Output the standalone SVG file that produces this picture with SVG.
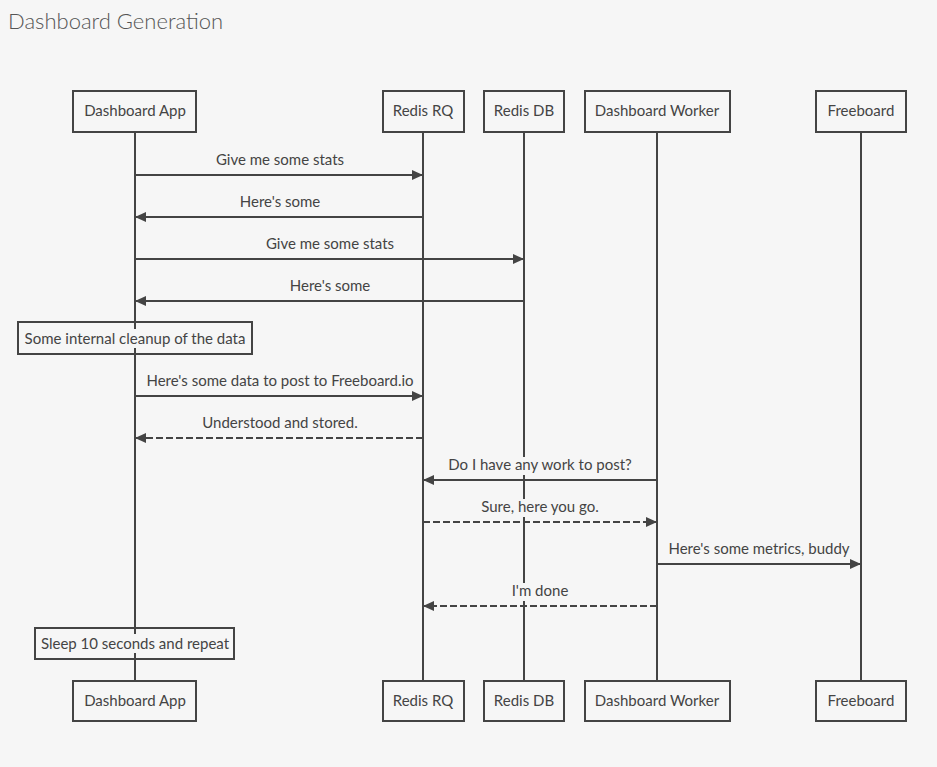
<svg xmlns="http://www.w3.org/2000/svg" width="937" height="767" viewBox="0 0 937 767">
<defs>
<style>
.bg{fill:#f6f6f6}
.t{font-family:"Source Sans Pro",Lato,"Noto Sans",sans-serif;font-size:15px;fill:#444;text-anchor:middle}
.title{font-family:"Source Sans Pro",Lato,"Noto Sans",sans-serif;font-size:22px;font-weight:300;fill:#555}
.box{fill:#f6f6f6;stroke:#444;stroke-width:2}
.note{fill:none;stroke:#444;stroke-width:2}
.life{stroke:#444;stroke-width:2;fill:none}
.msg{stroke:#444;stroke-width:2;fill:none}
.dash{stroke-dasharray:7,3}
.lbg{fill:#f6f6f6}
</style>
<marker id="ah" markerWidth="12" markerHeight="10" refX="11" refY="5" orient="auto" markerUnits="userSpaceOnUse">
<path d="M0,0 L11,5 L0,10 Z" fill="#444"/>
</marker>
</defs>
<rect class="bg" x="0" y="0" width="937" height="767"/>
<text class="title" x="8" y="29">Dashboard Generation</text>

<g id="lifelines">
<line class="life" x1="135" y1="132" x2="135" y2="681"/>
<line class="life" x1="423" y1="132" x2="423" y2="681"/>
<line class="life" x1="524" y1="132" x2="524" y2="681"/>
<line class="life" x1="657" y1="132" x2="657" y2="681"/>
<line class="life" x1="861" y1="132" x2="861" y2="681"/>
</g>

<g id="dashboard-app">
<rect class="box" x="73" y="91" width="123" height="41"/>
<text class="t" x="135" y="116">Dashboard App</text>
<rect class="box" x="73" y="681" width="123" height="40"/>
<text class="t" x="135" y="706">Dashboard App</text>
</g>
<g id="redis-rq">
<rect class="box" x="383" y="91" width="81" height="41"/>
<text class="t" x="423" y="116">Redis RQ</text>
<rect class="box" x="383" y="681" width="81" height="40"/>
<text class="t" x="423" y="706">Redis RQ</text>
</g>
<g id="redis-db">
<rect class="box" x="484" y="91" width="80" height="41"/>
<text class="t" x="524" y="116">Redis DB</text>
<rect class="box" x="484" y="681" width="80" height="40"/>
<text class="t" x="524" y="706">Redis DB</text>
</g>
<g id="dashboard-worker">
<rect class="box" x="585" y="91" width="145" height="41"/>
<text class="t" x="657" y="116">Dashboard Worker</text>
<rect class="box" x="585" y="681" width="145" height="40"/>
<text class="t" x="657" y="706">Dashboard Worker</text>
</g>
<g id="freeboard">
<rect class="box" x="816" y="91" width="90" height="41"/>
<text class="t" x="861" y="116">Freeboard</text>
<rect class="box" x="816" y="681" width="90" height="40"/>
<text class="t" x="861" y="706">Freeboard</text>
</g>

<g id="note-cleanup">
<rect class="note" x="18" y="322" width="234" height="32"/>
<rect class="lbg" x="22" y="329" width="226" height="19"/>
<text class="t" x="135" y="344">Some internal cleanup of the data</text>
</g>
<g id="note-sleep">
<rect class="note" x="35" y="628" width="199" height="31"/>
<rect class="lbg" x="39" y="634" width="191" height="19"/>
<text class="t" x="135" y="649">Sleep 10 seconds and repeat</text>
</g>

<g id="connectors">
<line class="msg" x1="135" y1="175" x2="423" y2="175" marker-end="url(#ah)"/>
<text class="t" x="280" y="165">Give me some stats</text>

<line class="msg" x1="423" y1="217" x2="135" y2="217" marker-end="url(#ah)"/>
<text class="t" x="280" y="207">Here's some</text>

<line class="msg" x1="135" y1="259" x2="524" y2="259" marker-end="url(#ah)"/>
<text class="t" x="330" y="249">Give me some stats</text>

<line class="msg" x1="524" y1="301" x2="135" y2="301" marker-end="url(#ah)"/>
<text class="t" x="330" y="291">Here's some</text>

<line class="msg" x1="135" y1="396" x2="423" y2="396" marker-end="url(#ah)"/>
<text class="t" x="280" y="386">Here's some data to post to Freeboard.io</text>

<line class="msg dash" x1="423" y1="438" x2="135" y2="438" marker-end="url(#ah)"/>
<text class="t" x="280" y="428">Understood and stored.</text>

<line class="msg" x1="657" y1="480" x2="423" y2="480" marker-end="url(#ah)"/>
<rect class="lbg" x="515" y="457" width="18" height="18"/>
<text class="t" x="540" y="470">Do I have any work to post?</text>

<line class="msg dash" x1="423" y1="522" x2="657" y2="522" marker-end="url(#ah)"/>
<rect class="lbg" x="515" y="499" width="18" height="18"/>
<text class="t" x="540" y="512">Sure, here you go.</text>

<line class="msg" x1="657" y1="564" x2="861" y2="564" marker-end="url(#ah)"/>
<text class="t" x="759" y="554">Here's some metrics, buddy</text>

<line class="msg dash" x1="657" y1="606" x2="423" y2="606" marker-end="url(#ah)"/>
<rect class="lbg" x="515" y="583" width="18" height="18"/>
<text class="t" x="540" y="596">I'm done</text>
</g>
</svg>
